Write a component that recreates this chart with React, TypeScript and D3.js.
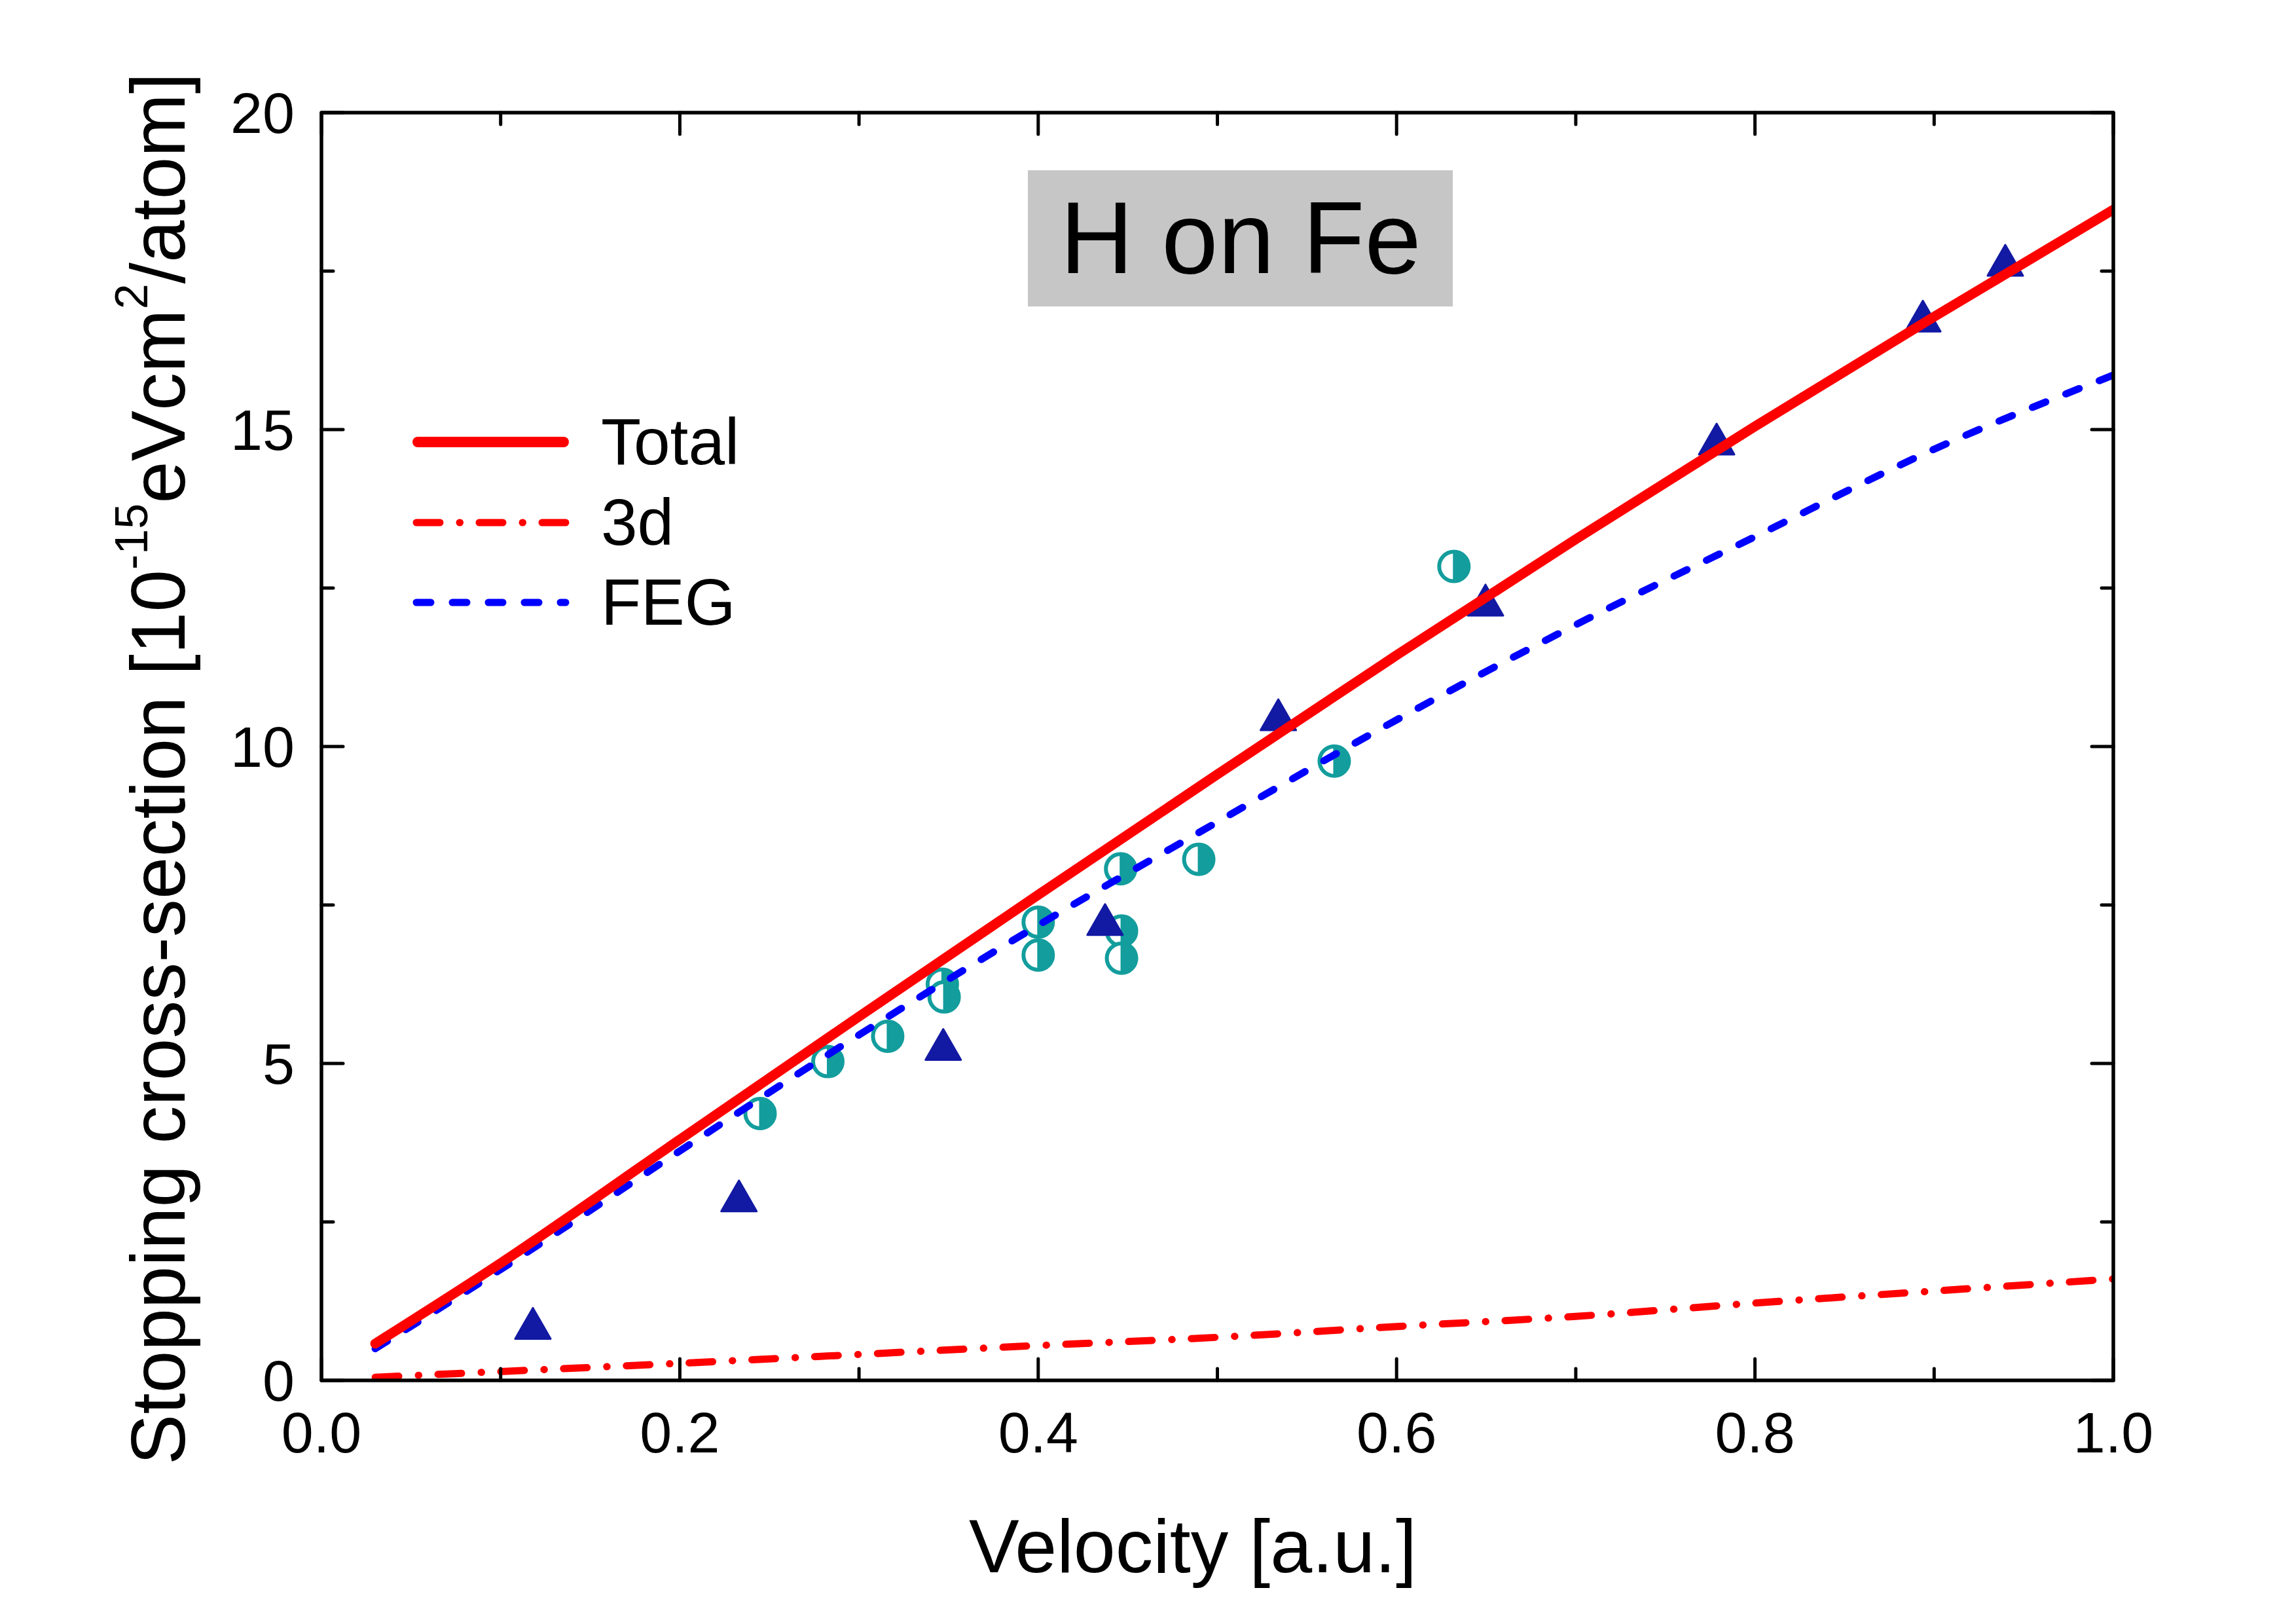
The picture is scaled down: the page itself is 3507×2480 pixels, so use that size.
import React, { useEffect } from "react";
import * as d3 from "d3";

// ---------- data ----------
const curveVelocity = [0.03, 0.1, 0.2, 0.3, 0.4, 0.5, 0.6, 0.7, 0.8, 0.9, 1.0];
const totalValues = [0.58, 1.85, 3.8, 5.74, 7.66, 9.56, 11.44, 13.27, 15.05, 16.78, 18.47];
const d3Values = [0.05, 0.14, 0.27, 0.41, 0.55, 0.68, 0.85, 1.01, 1.22, 1.41, 1.6];
const fegValues = [0.5, 1.75, 3.62, 5.45, 7.18, 8.81, 10.42, 11.92, 13.31, 14.69, 15.86];

const triangleV = [0.118, 0.233, 0.347, 0.4373, 0.534, 0.6496, 0.7786, 0.8937, 0.9397];
const triangleS = [0.9, 2.91, 5.3, 7.27, 10.5, 12.31, 14.85, 16.79, 17.67];

const circleV = [0.2448, 0.2826, 0.316, 0.3465, 0.3475, 0.4, 0.4, 0.446, 0.4465, 0.4465, 0.4896, 0.5652, 0.632];
const circleS = [4.21, 5.03, 5.43, 6.25, 6.05, 7.23, 6.71, 8.07, 7.09, 6.66, 8.22, 9.77, 12.84];

const xMajorTicks = [0, 0.2, 0.4, 0.6, 0.8, 1.0];
const xMinorTicks = [0.1, 0.3, 0.5, 0.7, 0.9];
const yMajorTicks = [0, 5, 10, 15, 20];
const yMinorTicks = [2.5, 7.5, 12.5, 17.5];

const legendLabels = ["Total", "3d", "FEG"];

// ---------- layout ----------
const W = 3507;
const H = 2480;
const L = 491, R = 3228, T = 172, B = 2108;
const FONT = "'Liberation Sans', Arial, Helvetica, sans-serif";
const RED = "#FF0000";
const BLUE = "#0000FF";
const NAVY = "#1219A3";
const TEAL = "#139D9D";

const x = d3.scaleLinear().domain([0, 1]).range([L, R]);
const y = d3.scaleLinear().domain([0, 20]).range([B, T]);

const lineGen = d3
  .line<[number, number]>()
  .x((d) => x(d[0]))
  .y((d) => y(d[1]))
  .curve(d3.curveMonotoneX);

const zip = (a: number[], b: number[]) => a.map((v, i) => [v, b[i]] as [number, number]);

export default function App() {
  useEffect(() => {
    document.body.style.margin = "0";
  }, []);

  const MAJ = 33, MIN = 18;
  const triPath = (cx: number, cy: number) => {
    const w = 54, h = 47;
    return `M${cx},${cy - h / 2} L${cx + w / 2},${cy + h / 2} L${cx - w / 2},${cy + h / 2} Z`;
  };
  const rC = 22.5;

  return (
    <svg width={W} height={H} viewBox={`0 0 ${W} ${H}`} style={{ display: "block", background: "#fff" }}>
      <defs>
        <clipPath id="plotClip">
          <rect x={0} y={T} width={R} height={B - T} />
        </clipPath>
      </defs>
      <rect x={0} y={0} width={W} height={H} fill="#fff" />

      {/* title box */}
      <rect x={1570} y={260} width={649} height={208} fill="#C6C6C6" />
      <text x={1895} y={417} fontFamily={FONT} fontSize={155} textAnchor="middle" fill="#000">
        H on Fe
      </text>

      {/* circles (half filled) */}
      {circleV.map((v, i) => {
        const cx = x(v), cy = y(circleS[i]);
        return (
          <g key={"c" + i}>
            <circle cx={cx} cy={cy} r={rC} fill="#fff" stroke={TEAL} strokeWidth={6} />
            <path d={`M${cx},${cy - rC} A${rC},${rC} 0 0 1 ${cx},${cy + rC} Z`} fill={TEAL} />
            <line x1={cx} y1={cy - rC} x2={cx} y2={cy + rC} stroke={TEAL} strokeWidth={3} />
          </g>
        );
      })}

      {/* triangles */}
      {triangleV.map((v, i) => (
        <path key={"t" + i} d={triPath(x(v), y(triangleS[i]))} fill={NAVY} stroke={NAVY} strokeWidth={3} strokeLinejoin="round" />
      ))}

      {/* curves */}
      <g clipPath="url(#plotClip)">
        <path d={lineGen(zip(curveVelocity, fegValues)) || ""} fill="none" stroke={BLUE} strokeWidth={11}
          strokeDasharray="22,33" strokeLinecap="round" />
        <path d={lineGen(zip(curveVelocity, d3Values)) || ""} fill="none" stroke={RED} strokeWidth={11}
          strokeDasharray="36,30,0.5,29.5" strokeLinecap="round" />
        <path d={lineGen(zip(curveVelocity, totalValues)) || ""} fill="none" stroke={RED} strokeWidth={15}
          strokeLinecap="round" />
      </g>

      {/* frame */}
      <rect x={L} y={T} width={R - L} height={B - T} fill="none" stroke="#000" strokeWidth={5.5} strokeLinejoin="round" />

      {/* ticks */}
      <g stroke="#000" strokeWidth={5} strokeLinecap="round">
        {xMajorTicks.map((t) => (
          <g key={"xm" + t}>
            <line x1={x(t)} x2={x(t)} y1={B} y2={B - MAJ} />
            <line x1={x(t)} x2={x(t)} y1={T} y2={T + MAJ} />
          </g>
        ))}
        {xMinorTicks.map((t) => (
          <g key={"xn" + t}>
            <line x1={x(t)} x2={x(t)} y1={B} y2={B - MIN} />
            <line x1={x(t)} x2={x(t)} y1={T} y2={T + MIN} />
          </g>
        ))}
        {yMajorTicks.map((t) => (
          <g key={"ym" + t}>
            <line x1={L} x2={L + MAJ} y1={y(t)} y2={y(t)} />
            <line x1={R} x2={R - MAJ} y1={y(t)} y2={y(t)} />
          </g>
        ))}
        {yMinorTicks.map((t) => (
          <g key={"yn" + t}>
            <line x1={L} x2={L + MIN} y1={y(t)} y2={y(t)} />
            <line x1={R} x2={R - MIN} y1={y(t)} y2={y(t)} />
          </g>
        ))}
      </g>

      {/* tick labels */}
      <g fontFamily={FONT} fontSize={88} fill="#000">
        {xMajorTicks.map((t) => (
          <text key={"xl" + t} x={x(t)} y={2218} textAnchor="middle">
            {t.toFixed(1)}
          </text>
        ))}
        {yMajorTicks.map((t) => (
          <text key={"yl" + t} x={450} y={y(t) + 31} textAnchor="end">
            {String(t)}
          </text>
        ))}
      </g>

      {/* axis titles */}
      <text x={1822} y={2401} fontFamily={FONT} fontSize={115} textAnchor="middle" fill="#000">
        Velocity [a.u.]
      </text>
      <text transform="translate(282,111) rotate(-90)" fontFamily={FONT} fontSize={116} textAnchor="end" fill="#000">
        <tspan>Stopping cross-section [10</tspan>
        <tspan fontSize={70} dy={-57}>-15</tspan>
        <tspan dy={57}>eVcm</tspan>
        <tspan fontSize={70} dy={-57}>2</tspan>
        <tspan dy={57}>/atom]</tspan>
      </text>

      {/* legend */}
      <g>
        <line x1={638} x2={861} y1={675} y2={675} stroke={RED} strokeWidth={16} strokeLinecap="round" />
        <line x1={636} x2={864} y1={798} y2={798} stroke={RED} strokeWidth={11} strokeLinecap="round"
          strokeDasharray="36,30,0.5,29.5" />
        <line x1={636} x2={864} y1={920} y2={920} stroke={BLUE} strokeWidth={11} strokeLinecap="round"
          strokeDasharray="22,33" />
        {legendLabels.map((lab, i) => (
          <text key={lab} x={918} y={709 + i * 122.5} fontFamily={FONT} fontSize={100} fill="#000">
            {lab}
          </text>
        ))}
      </g>
    </svg>
  );
}
